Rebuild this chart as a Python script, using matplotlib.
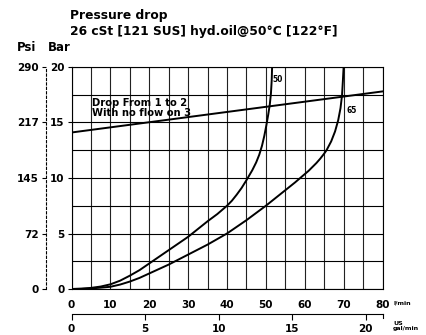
import matplotlib
matplotlib.use('Agg')
import matplotlib.pyplot as plt

plt.rcParams['font.family'] = ['DejaVu Sans']
plt.rcParams['font.weight'] = 'bold'

# valores (l/min x bar)
vazao_50 = [0, 2.5, 5, 7.5, 10, 12.5, 15, 17.5, 20, 25, 30, 35, 37.5, 40, 41.25, 42.5, 43.75,
            45, 46.5, 47.5, 48.3, 49, 49.6, 50.1, 50.6, 51, 51.3, 51.5, 51.6]
queda_50 = [0, 0.02, 0.1, 0.22, 0.42, 0.75, 1.2, 1.7, 2.3, 3.5, 4.7, 6.1, 6.75, 7.5, 7.95, 8.5, 9.1,
            9.8, 10.7, 11.4, 12.1, 12.9, 13.8, 14.7, 15.7, 16.6, 17.6, 18.8, 20]

vazao_65 = [0, 5, 7.5, 10, 12.5, 15, 17.5, 20, 25, 30, 35, 40, 45, 50, 52.5, 55, 57.5, 60, 61,
            62, 63, 64, 65, 65.6, 66.8, 67.8, 68.6, 69.2, 69.6, 69.8, 70]
queda_65 = [0, 0.05, 0.12, 0.2, 0.4, 0.67, 1.0, 1.4, 2.2, 3.1, 4.0, 5.0, 6.2, 7.5, 8.2, 8.9, 9.6,
            10.35, 10.65, 11.0, 11.35, 11.75, 12.2, 12.5, 13.3, 14.2, 15.2, 16.3, 17.5, 18.7, 20]

vazao_reta = [0, 80]
queda_reta = [14.1, 17.8]

bar_ticks = [0, 5, 10, 15, 20]
psi_labels = ['0', '72', '145', '217', '290']
lmin_ticks = [0, 10, 20, 30, 40, 50, 60, 70, 80]
gal_ticks = [0, 5, 10, 15, 20]

L_POR_GAL = 3.785
PSI_POR_BAR = 14.5

W, H = 426, 335
fig = plt.figure(figsize=(W / 100, H / 100), dpi=100)
ax = fig.add_axes([71.5 / W, (H - 289) / H, 311 / W, 222 / H])

ax.set_xlim(0, 80)
ax.set_ylim(0, 20)
for xv in range(0, 81, 5):
    ax.axvline(xv, color='#222222', lw=0.8, zorder=1)
for yv in [2.5 * i for i in range(9)]:
    ax.axhline(yv, color='black', lw=0.8, zorder=1)
for s in ax.spines.values():
    s.set_linewidth(0.8)

ax.plot(vazao_50, queda_50, color='black', lw=1.4, zorder=3)
ax.plot(vazao_65, queda_65, color='black', lw=1.4, zorder=3)
ax.plot(vazao_reta, queda_reta, color='black', lw=1.4, zorder=3)

ax.text(51.7, 18.9, '50', fontsize=5.5, fontweight='bold', va='center')
ax.text(70.8, 16.1, '65', fontsize=5.5, fontweight='bold', va='center')
ax.text(5.2, 15.45, 'Drop From 1 to 2\nWith no flow on 3', fontsize=7.2,
        fontweight='bold', va='bottom', linespacing=0.95)

ax.set_yticks(bar_ticks)
ax.set_yticklabels([str(v) for v in bar_ticks], fontsize=7.5, fontweight='bold')
ax.tick_params(axis='y', length=3, width=0.8, pad=2)
ax.set_xticks(lmin_ticks)
ax.set_xticklabels([str(v) for v in lmin_ticks], fontsize=7.5, fontweight='bold')
ax.tick_params(axis='x', length=0, pad=8)

# eixo em psi (tracejado à esquerda)
psi_ax = ax.secondary_yaxis(-26 / 311, functions=(lambda b: b * PSI_POR_BAR,
                                                  lambda p: p / PSI_POR_BAR))
psi_ax.set_yticks([v * PSI_POR_BAR for v in bar_ticks])
psi_ax.set_yticklabels(psi_labels, fontsize=7.5, fontweight='bold')
psi_ax.spines['left'].set_linestyle((0, (2, 2)))
psi_ax.spines['left'].set_linewidth(0.8)
psi_ax.tick_params(length=3, width=0.8, pad=2)

# eixo em galões americanos
gal_ax = ax.secondary_xaxis(-25 / 222, functions=(lambda l: l / L_POR_GAL,
                                                  lambda g: g * L_POR_GAL))
gal_ax.set_xticks(gal_ticks)
gal_ax.set_xticklabels([str(v) for v in gal_ticks], fontsize=7.5, fontweight='bold')
gal_ax.spines['bottom'].set_linewidth(0.8)
gal_ax.tick_params(length=4, width=0.8, pad=3)
fig.add_artist(plt.Line2D([382.5 / W, 382.5 / W], [(H - 314) / H, (H - 318) / H],
                          color='black', lw=0.8))

fig.text(393 / W, 1 - 303 / H, 'l/min', fontsize=4.5, fontweight='bold', va='center')
fig.text(393 / W, 1 - 326 / H, 'US\ngal/min', fontsize=4.5, fontweight='bold',
         va='center', linespacing=0.8)

fig.text(70 / W, 1 - 15.3 / H, 'Pressure drop', fontsize=8.8, fontweight='bold', va='center')
fig.text(70 / W, 1 - 32 / H, '26 cSt [121 SUS] hyd.oil@50°C [122°F]', fontsize=8.8,
         fontweight='bold', va='center')
fig.text(26.5 / W, 1 - 47.5 / H, 'Psi', fontsize=8.5, fontweight='bold', va='center', ha='center')
fig.text(59 / W, 1 - 47.5 / H, 'Bar', fontsize=8.5, fontweight='bold', va='center', ha='center')

fig.savefig('out.png', dpi=100)
